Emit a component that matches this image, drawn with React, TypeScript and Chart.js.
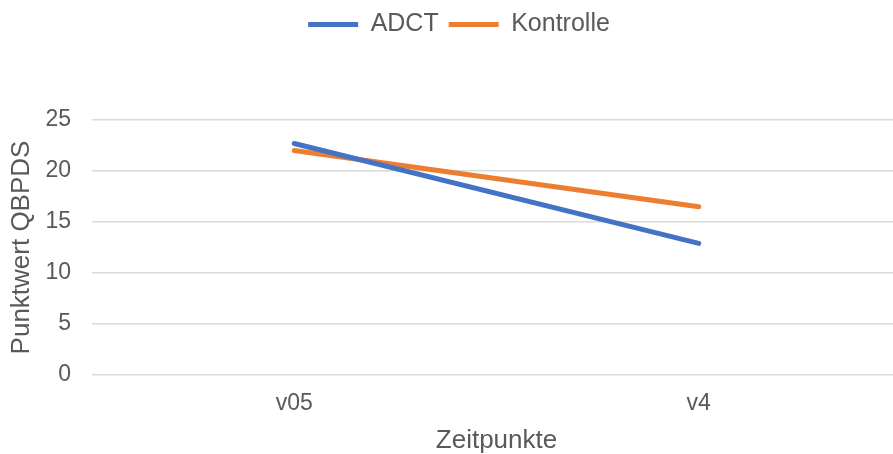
import React, { useEffect, useRef } from "react";
import { Chart, registerables } from "chart.js";

Chart.register(...registerables);

const categories = ["v05", "v4"];
const adct = [22.7, 12.9];
const kontrolle = [22.0, 16.5];
const yTicks = [0, 5, 10, 15, 20, 25];

const FONT = "'Liberation Sans', Arial, sans-serif";
const TEXT = "#595959";
const CANVAS_W = 901;
const CANVAS_H = 454;

const legendGap = {
  id: "legendGap",
  beforeInit(chart: any) {
    const legend = chart.legend;
    if (!legend) return;
    const fit = legend.fit;
    legend.fit = function () {
      fit.call(this);
      this.height += 73;
    };
  },
  afterLayout(chart: any) {
    if (chart.legend) chart.legend.left += 17;
  },
};

export default function App() {
  const ref = useRef<HTMLCanvasElement>(null);
  useEffect(() => {
    document.body.style.margin = "0";
    const chart = new Chart(ref.current!, {
      type: "line",
      data: {
        labels: categories,
        datasets: [
          {
            label: "ADCT",
            data: adct,
            borderColor: "#4472C4",
            backgroundColor: "#4472C4",
            borderWidth: 5,
            borderCapStyle: "round",
            pointRadius: 0,
            pointHoverRadius: 0,
          },
          {
            label: "Kontrolle",
            data: kontrolle,
            borderColor: "#ED7D31",
            backgroundColor: "#ED7D31",
            borderWidth: 5,
            borderCapStyle: "round",
            pointRadius: 0,
            pointHoverRadius: 0,
          },
        ],
      },
      plugins: [legendGap],
      options: {
        animation: false,
        responsive: false,
        layout: { padding: { top: 2, left: 0, right: 0, bottom: 0 } },
        plugins: {
          tooltip: { enabled: false },
          legend: {
            position: "top",
            labels: {
              usePointStyle: true,
              pointStyle: "line",
              pointStyleWidth: 50,
              boxHeight: 20,
              color: TEXT,
              font: { family: FONT, size: 25 },
              padding: 10,
            },
          },
        },
        scales: {
          x: {
            offset: true,
            grid: { display: false },
            border: { display: false },
            ticks: { color: TEXT, font: { family: FONT, size: 23 }, padding: 7 },
            title: {
              display: true,
              text: "Zeitpunkte",
              color: TEXT,
              font: { family: FONT, size: 26 },
              padding: { top: 0, bottom: -2 },
            },
            afterFit: (s: any) => {
              s.height = 79;
            },
          },
          y: {
            min: 0,
            max: 25,
            afterBuildTicks: (s: any) => {
              s.ticks = yTicks.map((v) => ({ value: v }));
            },
            grid: { color: "#D9D9D9", lineWidth: 1.5, drawTicks: false },
            border: { display: false },
            ticks: { color: TEXT, font: { family: FONT, size: 23 }, padding: 21 },
            title: {
              display: true,
              text: "Punktwert QBPDS",
              color: TEXT,
              font: { family: FONT, size: 26 },
              padding: { top: 6, bottom: 0 },
            },
            afterFit: (s: any) => {
              s.width = 92;
            },
          },
        },
      },
    });
    return () => chart.destroy();
  }, []);
  return (
    <div style={{ position: "absolute", left: 0, top: 0, width: 893, height: 454, overflow: "hidden" }}>
      <canvas ref={ref} width={CANVAS_W} height={CANVAS_H} style={{ width: CANVAS_W, height: CANVAS_H, display: "block" }} />
    </div>
  );
}
